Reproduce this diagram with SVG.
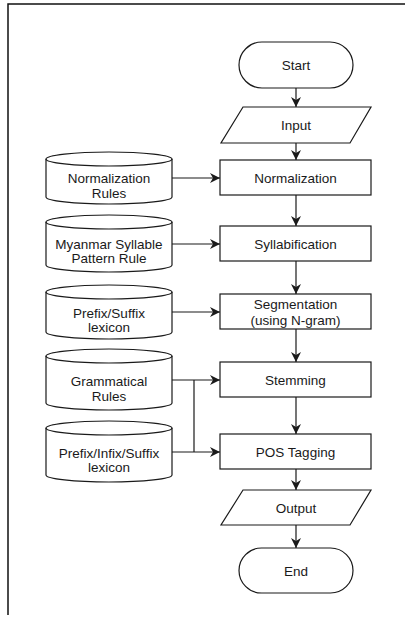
<svg xmlns="http://www.w3.org/2000/svg" width="405" height="619" viewBox="0 0 405 619">
<defs>
<style>
.s{fill:#fff;stroke:#1a1a1a;stroke-width:1.2}
.t{font-family:"Liberation Sans",Arial,sans-serif;font-size:13.5px;fill:#1a1a1a;text-anchor:middle}
.c{fill:none;stroke:#1a1a1a;stroke-width:1.2}
.f{fill:none;stroke:#111;stroke-width:1.5}
</style>
<marker id="ah" viewBox="0 0 10 10" refX="10" refY="5" markerWidth="10" markerHeight="10" markerUnits="userSpaceOnUse" orient="auto">
<path d="M0,0 L10,5 L0,10 L3,5 Z" fill="#1a1a1a"/>
</marker>
</defs>
<rect width="405" height="619" fill="#fff"/>
<g id="frame"><path class="f" d="M8,615 L8,4 L405,4"/></g>
<g id="start"><rect class="s" x="239" y="42" width="114" height="46" rx="23"/><text class="t" x="296" y="70">Start</text></g>
<g id="input"><path class="s" d="M243,107 L371,107 L350,143 L221,143 Z"/><text class="t" x="296" y="130">Input</text></g>
<g id="normalization"><rect class="s" x="220" y="160" width="151" height="35"/><text class="t" x="295.5" y="182.5">Normalization</text></g>
<g id="syllabification"><rect class="s" x="220" y="226" width="151" height="35"/><text class="t" x="295.5" y="248.5">Syllabification</text></g>
<g id="segmentation"><rect class="s" x="220" y="294" width="151" height="35"/><text class="t" x="295.5" y="309">Segmentation</text><text class="t" x="295.5" y="325">(using N-gram)</text></g>
<g id="stemming"><rect class="s" x="220" y="362" width="151" height="35"/><text class="t" x="295.5" y="384.5">Stemming</text></g>
<g id="pos"><rect class="s" x="220" y="434" width="151" height="35"/><text class="t" x="295.5" y="456.5">POS Tagging</text></g>
<g id="output"><path class="s" d="M243,490 L371,490 L350,525 L221,525 Z"/><text class="t" x="296" y="512.5">Output</text></g>
<g id="end"><rect class="s" x="239" y="548" width="114" height="45" rx="22.5"/><text class="t" x="296" y="575.5">End</text></g>
<g id="db1"><path class="s" d="M46,159 L46,197 A63,7 0 0 0 172,197 L172,159 A63,7 0 0 0 46,159 Z"/><path class="c" d="M46,159 A63,7 0 0 0 172,159"/><text class="t" x="109" y="183">Normalization</text><text class="t" x="109" y="198">Rules</text></g>
<g id="db2"><path class="s" d="M46,222 L46,265 A63,7 0 0 0 172,265 L172,222 A63,7 0 0 0 46,222 Z"/><path class="c" d="M46,222 A63,7 0 0 0 172,222"/><text class="t" x="109" y="249">Myanmar Syllable</text><text class="t" x="109" y="263">Pattern Rule</text></g>
<g id="db3"><path class="s" d="M46,292 L46,332 A63,7 0 0 0 172,332 L172,292 A63,7 0 0 0 46,292 Z"/><path class="c" d="M46,292 A63,7 0 0 0 172,292"/><text class="t" x="109" y="318">Prefix/Suffix</text><text class="t" x="109" y="332">lexicon</text></g>
<g id="db4"><path class="s" d="M46,356 L46,403 A63,7 0 0 0 172,403 L172,356 A63,7 0 0 0 46,356 Z"/><path class="c" d="M46,356 A63,7 0 0 0 172,356"/><text class="t" x="109" y="386">Grammatical</text><text class="t" x="109" y="401">Rules</text></g>
<g id="db5"><path class="s" d="M46,428 L46,475 A63,7 0 0 0 172,475 L172,428 A63,7 0 0 0 46,428 Z"/><path class="c" d="M46,428 A63,7 0 0 0 172,428"/><text class="t" x="109" y="458">Prefix/Infix/Suffix</text><text class="t" x="109" y="472">lexicon</text></g>
<g id="connectors" class="c">
<path class="c" d="M296,88 L296,107" marker-end="url(#ah)"/>
<path class="c" d="M296,143 L296,160" marker-end="url(#ah)"/>
<path class="c" d="M296,195 L296,226" marker-end="url(#ah)"/>
<path class="c" d="M296,261 L296,294" marker-end="url(#ah)"/>
<path class="c" d="M296,329 L296,362" marker-end="url(#ah)"/>
<path class="c" d="M296,397 L296,434" marker-end="url(#ah)"/>
<path class="c" d="M296,469 L296,490" marker-end="url(#ah)"/>
<path class="c" d="M296,525 L296,548" marker-end="url(#ah)"/>
<path class="c" d="M172,178 L220,178" marker-end="url(#ah)"/>
<path class="c" d="M172,244 L220,244" marker-end="url(#ah)"/>
<path class="c" d="M172,312 L220,312" marker-end="url(#ah)"/>
<path class="c" d="M172,380 L220,380" marker-end="url(#ah)"/>
<path class="c" d="M194,380 L194,452"/>
<path class="c" d="M172,452 L220,452" marker-end="url(#ah)"/>
</g>
</svg>
